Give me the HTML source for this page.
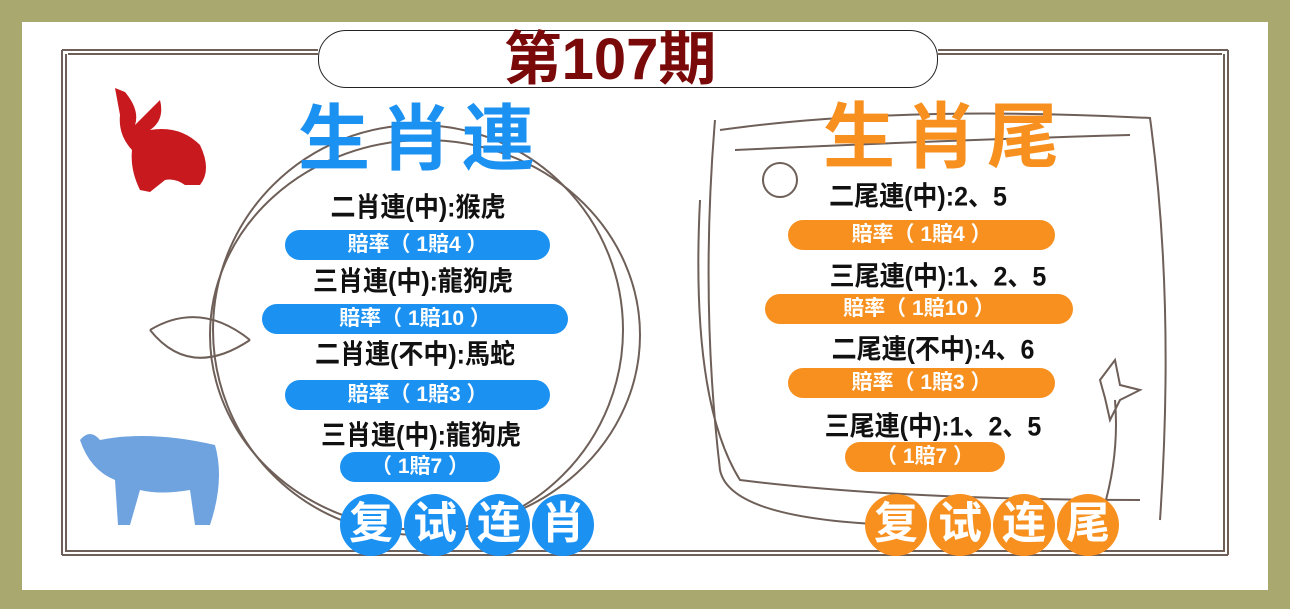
<!DOCTYPE html>
<html><head><meta charset="utf-8"><style>
body{margin:0;width:1290px;height:609px;overflow:hidden;background:#a9a86f;font-family:"Liberation Sans","Noto Sans CJK SC",sans-serif}
.in{position:absolute;left:22px;top:22px;width:1246px;height:568px;background:#fff}
.t{position:absolute;font-weight:bold;font-size:25px;color:#111;white-space:nowrap;transform:translateX(-50%) scaleY(1.08);line-height:30px}
.p{position:absolute;border-radius:15px;color:#fff;font-weight:bold;font-size:21px;text-align:center;line-height:30px;height:30px}
.b{background:#1b91f2}.o{background:#f7901f}
.c{position:absolute;width:62px;height:62px;border-radius:50%;color:#fff;font-weight:bold;font-size:44px;text-align:center;line-height:60px}
.h{position:absolute;font-weight:bold;font-size:72px;line-height:80px;white-space:nowrap;letter-spacing:10px}
</style></head><body>
<div class="in"></div>
<svg style="position:absolute;left:0;top:0" width="1290" height="609">
<g fill="none" stroke="#6e5f58" stroke-width="2">
<path d="M62 50 H318 M938 50 H1228 M62 50 V555 M66 54 V552 M1228 50 V555 M1224 54 V552 M62 555 H1228 M66 551 H1224"/>
<path d="M68 54 H318 M938 54 H1222"/>
<ellipse cx="418" cy="330" rx="205" ry="205"/>
<ellipse cx="425" cy="335" rx="215" ry="195"/>
<path d="M715 120 Q700 300 720 470 Q730 520 900 525 M720 130 Q900 105 1150 118 Q1175 300 1160 520 M735 150 Q950 140 1130 135 M700 200 Q690 400 740 480 Q900 500 1140 500"/>
<path d="M150 330 Q200 300 250 340 M150 330 Q190 380 250 340"/>
<circle cx="780" cy="180" r="17"/>
<path d="M1100 380 l15 -20 l5 25 l20 5 l-20 10 l-10 20 l-5 -22 z M1115 400 Q1120 460 1100 520"/>
</g>
<path d="M115 88 L125 92 Q140 110 135 125 Q150 110 160 100 Q165 120 150 130 Q180 125 200 145 Q212 170 200 185 L185 185 Q175 178 165 180 L150 192 L140 190 Q130 170 132 150 Q118 135 120 115 Z" fill="#c8191f"/>
<path d="M80 440 Q90 428 100 440 Q150 430 215 445 Q225 480 210 525 L195 525 L190 490 Q160 495 140 490 L130 525 L118 525 L115 480 Q90 470 80 440 Z" fill="#6fa3df"/>
</svg>
<div style="position:absolute;left:318px;top:30px;width:618px;height:56px;border:1.5px solid #222;border-radius:28px;background:#fff"></div>
<div style="position:absolute;left:300px;top:26px;width:620px;text-align:center;font-weight:bold;font-size:58px;color:#7a0a0a;line-height:68px">第107期</div>
<div class="h" style="left:298px;top:100px;color:#1b91f2">生肖連</div>
<div class="h" style="left:823px;top:98px;color:#f7901f">生肖尾</div>

<div class="t" style="left:418px;top:193px">二肖連(中):猴虎</div>
<div class="p b" style="left:285px;top:230px;width:265px">賠率（ 1賠4 ）</div>
<div class="t" style="left:413px;top:267px">三肖連(中):龍狗虎</div>
<div class="p b" style="left:262px;top:304px;width:306px">賠率（ 1賠10 ）</div>
<div class="t" style="left:415px;top:340px">二肖連(不中):馬蛇</div>
<div class="p b" style="left:285px;top:380px;width:265px">賠率（ 1賠3 ）</div>
<div class="t" style="left:421px;top:421px">三肖連(中):龍狗虎</div>
<div class="p b" style="left:340px;top:452px;width:160px">（ 1賠7 ）</div>

<div class="t" style="left:918px;top:182px">二尾連(中):2、5</div>
<div class="p o" style="left:788px;top:220px;width:267px">賠率（ 1賠4 ）</div>
<div class="t" style="left:938px;top:262px">三尾連(中):1、2、5</div>
<div class="p o" style="left:765px;top:294px;width:308px">賠率（ 1賠10 ）</div>
<div class="t" style="left:933px;top:335px">二尾連(不中):4、6</div>
<div class="p o" style="left:788px;top:368px;width:267px">賠率（ 1賠3 ）</div>
<div class="t" style="left:933px;top:412px">三尾連(中):1、2、5</div>
<div class="p o" style="left:845px;top:442px;width:160px">（ 1賠7 ）</div>

<div class="c b" style="left:340px;top:494px">复</div>
<div class="c b" style="left:404px;top:494px">试</div>
<div class="c b" style="left:468px;top:494px">连</div>
<div class="c b" style="left:532px;top:494px">肖</div>
<div class="c o" style="left:865px;top:494px">复</div>
<div class="c o" style="left:929px;top:494px">试</div>
<div class="c o" style="left:993px;top:494px">连</div>
<div class="c o" style="left:1057px;top:494px">尾</div>
</body></html>
